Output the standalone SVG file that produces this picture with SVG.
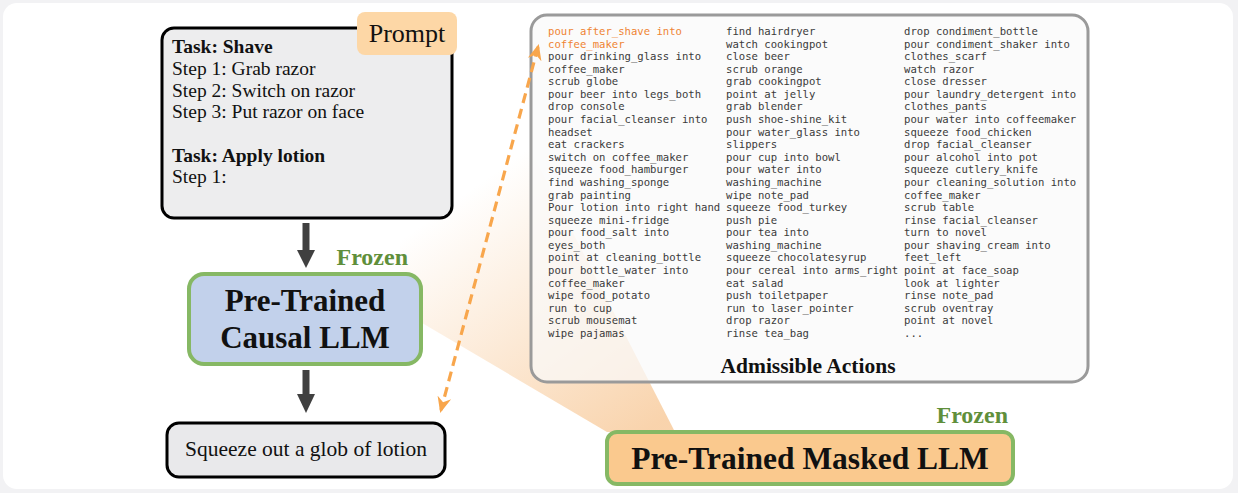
<svg xmlns="http://www.w3.org/2000/svg" width="1238" height="493" viewBox="0 0 1238 493">
  <style>
    .serif { font-family: "Liberation Serif", "DejaVu Serif", serif; fill: #111; }
    .bold { font-weight: bold; }
    .mono { font-family: "DejaVu Sans Mono", "Liberation Mono", monospace; font-size: 10.6px; fill: #3a3a3a; }
    .hl { fill: #ef8433; }
    .frozen { font-family: "Liberation Serif", "DejaVu Serif", serif; font-weight: bold; font-size: 24px; fill: #5f8f3b; }
    .darrow { stroke: #404040; stroke-width: 7; fill: none; }
    .ahead { fill: #404040; }
  </style>
  <defs>
    <linearGradient id="cone" gradientUnits="userSpaceOnUse" x1="645" y1="432" x2="470" y2="190">
      <stop offset="0" stop-color="#f7c591" stop-opacity="0.75"/>
      <stop offset="1" stop-color="#f7c591" stop-opacity="0"/>
    </linearGradient>
    <marker id="oarrow" viewBox="0 0 16 16" refX="13" refY="8" markerWidth="16" markerHeight="16" markerUnits="userSpaceOnUse" orient="auto-start-reverse">
      <path d="M0,1 L16,8 L0,15 L5,8 z" fill="#f8a64c"/>
    </marker>
  </defs>

  <rect x="0" y="0" width="1238" height="493" fill="#f2f2f4"/>
  <rect x="3" y="3" width="1230" height="486" rx="14" fill="#ffffff"/>

  <!-- highlight cone -->
  <polygon points="607,432 675,432 505,100 400,100 400,310" fill="url(#cone)"/>

  <!-- Admissible actions -->
  <g id="node-actions">
    <rect x="531" y="15" width="557" height="367" rx="16" fill="#f9f9f9" fill-opacity="0.72" stroke="#9a9a9a" stroke-width="3"/>
    <text class="mono" x="548" y="35">
      <tspan x="548" class="hl">pour after_shave into</tspan>
      <tspan x="548" dy="12.58" class="hl">coffee_maker</tspan>
      <tspan x="548" dy="12.58">pour drinking_glass into</tspan>
      <tspan x="548" dy="12.58">coffee_maker</tspan>
      <tspan x="548" dy="12.58">scrub globe</tspan>
      <tspan x="548" dy="12.58">pour beer into legs_both</tspan>
      <tspan x="548" dy="12.58">drop console</tspan>
      <tspan x="548" dy="12.58">pour facial_cleanser into</tspan>
      <tspan x="548" dy="12.58">headset</tspan>
      <tspan x="548" dy="12.58">eat crackers</tspan>
      <tspan x="548" dy="12.58">switch on coffee_maker</tspan>
      <tspan x="548" dy="12.58">squeeze food_hamburger</tspan>
      <tspan x="548" dy="12.58">find washing_sponge</tspan>
      <tspan x="548" dy="12.58">grab painting</tspan>
      <tspan x="548" dy="12.58">Pour lotion into right hand</tspan>
      <tspan x="548" dy="12.58">squeeze mini-fridge</tspan>
      <tspan x="548" dy="12.58">pour food_salt into</tspan>
      <tspan x="548" dy="12.58">eyes_both</tspan>
      <tspan x="548" dy="12.58">point at cleaning_bottle</tspan>
      <tspan x="548" dy="12.58">pour bottle_water into</tspan>
      <tspan x="548" dy="12.58">coffee_maker</tspan>
      <tspan x="548" dy="12.58">wipe food_potato</tspan>
      <tspan x="548" dy="12.58">run to cup</tspan>
      <tspan x="548" dy="12.58">scrub mousemat</tspan>
      <tspan x="548" dy="12.58">wipe pajamas</tspan>
    </text>
    <text class="mono" x="726" y="35">
      <tspan x="726">find hairdryer</tspan>
      <tspan x="726" dy="12.58">watch cookingpot</tspan>
      <tspan x="726" dy="12.58">close beer</tspan>
      <tspan x="726" dy="12.58">scrub orange</tspan>
      <tspan x="726" dy="12.58">grab cookingpot</tspan>
      <tspan x="726" dy="12.58">point at jelly</tspan>
      <tspan x="726" dy="12.58">grab blender</tspan>
      <tspan x="726" dy="12.58">push shoe-shine_kit</tspan>
      <tspan x="726" dy="12.58">pour water_glass into</tspan>
      <tspan x="726" dy="12.58">slippers</tspan>
      <tspan x="726" dy="12.58">pour cup into bowl</tspan>
      <tspan x="726" dy="12.58">pour water into</tspan>
      <tspan x="726" dy="12.58">washing_machine</tspan>
      <tspan x="726" dy="12.58">wipe note_pad</tspan>
      <tspan x="726" dy="12.58">squeeze food_turkey</tspan>
      <tspan x="726" dy="12.58">push pie</tspan>
      <tspan x="726" dy="12.58">pour tea into</tspan>
      <tspan x="726" dy="12.58">washing_machine</tspan>
      <tspan x="726" dy="12.58">squeeze chocolatesyrup</tspan>
      <tspan x="726" dy="12.58">pour cereal into arms_right</tspan>
      <tspan x="726" dy="12.58">eat salad</tspan>
      <tspan x="726" dy="12.58">push toiletpaper</tspan>
      <tspan x="726" dy="12.58">run to laser_pointer</tspan>
      <tspan x="726" dy="12.58">drop razor</tspan>
      <tspan x="726" dy="12.58">rinse tea_bag</tspan>
    </text>
    <text class="mono" x="904" y="35">
      <tspan x="904">drop condiment_bottle</tspan>
      <tspan x="904" dy="12.58">pour condiment_shaker into</tspan>
      <tspan x="904" dy="12.58">clothes_scarf</tspan>
      <tspan x="904" dy="12.58">watch razor</tspan>
      <tspan x="904" dy="12.58">close dresser</tspan>
      <tspan x="904" dy="12.58">pour laundry_detergent into</tspan>
      <tspan x="904" dy="12.58">clothes_pants</tspan>
      <tspan x="904" dy="12.58">pour water into coffeemaker</tspan>
      <tspan x="904" dy="12.58">squeeze food_chicken</tspan>
      <tspan x="904" dy="12.58">drop facial_cleanser</tspan>
      <tspan x="904" dy="12.58">pour alcohol into pot</tspan>
      <tspan x="904" dy="12.58">squeeze cutlery_knife</tspan>
      <tspan x="904" dy="12.58">pour cleaning_solution into</tspan>
      <tspan x="904" dy="12.58">coffee_maker</tspan>
      <tspan x="904" dy="12.58">scrub table</tspan>
      <tspan x="904" dy="12.58">rinse facial_cleanser</tspan>
      <tspan x="904" dy="12.58">turn to novel</tspan>
      <tspan x="904" dy="12.58">pour shaving_cream into</tspan>
      <tspan x="904" dy="12.58">feet_left</tspan>
      <tspan x="904" dy="12.58">point at face_soap</tspan>
      <tspan x="904" dy="12.58">look at lighter</tspan>
      <tspan x="904" dy="12.58">rinse note_pad</tspan>
      <tspan x="904" dy="12.58">scrub oventray</tspan>
      <tspan x="904" dy="12.58">point at novel</tspan>
      <tspan x="904" dy="12.58">...</tspan>
    </text>
    <text class="serif bold" x="808" y="373" font-size="21.5" text-anchor="middle">Admissible Actions</text>
  </g>

  <!-- Prompt -->
  <g id="node-prompt">
    <rect x="162" y="28" width="290" height="190" rx="12" fill="#ededee" stroke="#000" stroke-width="3"/>
    <text class="serif bold" x="172" y="53" font-size="19.5">Task: Shave</text>
    <text class="serif" x="172" y="75" font-size="19.5">Step 1: Grab razor</text>
    <text class="serif" x="172" y="97" font-size="19.5">Step 2: Switch on razor</text>
    <text class="serif" x="172" y="118" font-size="19.5">Step 3: Put razor on face</text>
    <text class="serif bold" x="172" y="162" font-size="19.5">Task: Apply lotion</text>
    <text class="serif" x="172" y="183" font-size="19.5">Step 1:</text>
    <rect x="357" y="12" width="100" height="43" rx="8" fill="#fdd7a6"/>
    <text class="serif" x="407" y="42" font-size="26" text-anchor="middle">Prompt</text>
  </g>

  <!-- Causal LLM -->
  <g id="node-causal">
    <rect x="189" y="274" width="232" height="90" rx="15" fill="#c2d1eb" stroke="#86b864" stroke-width="4"/>
    <text class="serif bold" x="305" y="311" font-size="31" text-anchor="middle">Pre-Trained</text>
    <text class="serif bold" x="305" y="348" font-size="31" text-anchor="middle">Causal LLM</text>
    <text class="frozen" x="408" y="265" text-anchor="end">Frozen</text>
  </g>

  <!-- Output -->
  <g id="node-output">
    <rect x="167" y="423" width="278" height="54" rx="12" fill="#e9e9eb" stroke="#000" stroke-width="3"/>
    <text class="serif" x="306" y="456" font-size="21.5" text-anchor="middle">Squeeze out a glob of lotion</text>
  </g>

  <!-- Masked LLM -->
  <g id="node-masked">
    <rect x="607" y="432" width="406" height="52" rx="10" fill="#fac98e" stroke="#86b864" stroke-width="4"/>
    <text class="serif bold" x="810" y="469" font-size="31.5" text-anchor="middle">Pre-Trained Masked LLM</text>
    <text class="frozen" x="1008" y="423" text-anchor="end">Frozen</text>
  </g>

  <!-- Connectors -->
  <g id="connectors">
    <line class="darrow" x1="306" y1="223" x2="306" y2="252"/>
    <polygon class="ahead" points="297,250 315,250 306,268"/>
    <line class="darrow" x1="306" y1="370" x2="306" y2="396"/>
    <polygon class="ahead" points="297,394 315,394 306,413"/>
    <line x1="538" y1="47" x2="441" y2="410" stroke="#f8a64c" stroke-width="3.2" stroke-dasharray="10 6" marker-start="url(#oarrow)" marker-end="url(#oarrow)"/>
  </g>
</svg>
